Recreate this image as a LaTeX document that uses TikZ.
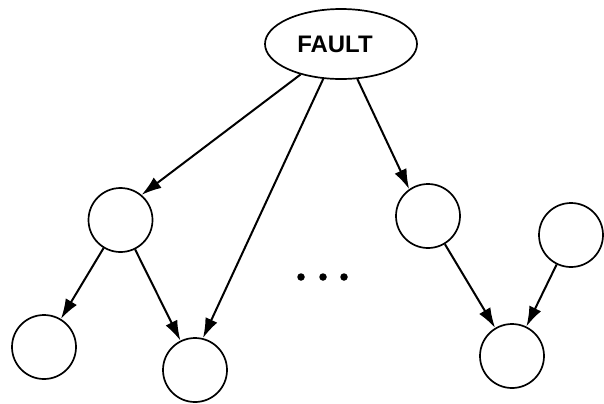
\documentclass[tikz,border=0pt]{standalone}
\usepackage{fontspec}
\setmainfont{Liberation Sans}
\usetikzlibrary{shapes.geometric,arrows.meta}
\begin{document}
\begin{tikzpicture}[x=1bp,y=-1bp,
  circ/.style={circle,draw,line width=1.7bp,minimum size=64bp,inner sep=0pt},
  faultnode/.style={ellipse,draw,line width=1.7bp,minimum width=152bp,minimum height=70bp,inner sep=0pt,font=\fontsize{24}{24}\selectfont\bfseries},
  edge/.style={line width=2bp,-{Latex[length=20bp,width=13bp]}},
  dotmark/.style={circle,fill,minimum size=7.5bp,inner sep=0pt}]
\useasboundingbox (0,0) rectangle (604,403);
\node[faultnode] (F) at (341,44) {FAULT\hspace*{12bp}};
\node[circ] (A) at (120.5,220) {};
\node[circ] (B) at (44,347) {};
\node[circ] (C) at (195,370) {};
\node[circ] (D) at (428,216) {};
\node[circ] (E) at (571,235) {};
\node[circ] (G) at (512,356) {};
\node[dotmark] (d1) at (301,277) {};
\node[dotmark] (d2) at (323,277) {};
\node[dotmark] (d3) at (344,277) {};
\draw[edge] (F.217) -- (A.50);
\draw[edge] (F.243) -- (C.76);
\draw[edge] (F.295) -- (D.125);
\draw[edge] (A) -- (B);
\draw[edge] (A) -- (C);
\draw[edge] (D) -- (G);
\draw[edge] (E) -- (G);
\end{tikzpicture}
\end{document}
